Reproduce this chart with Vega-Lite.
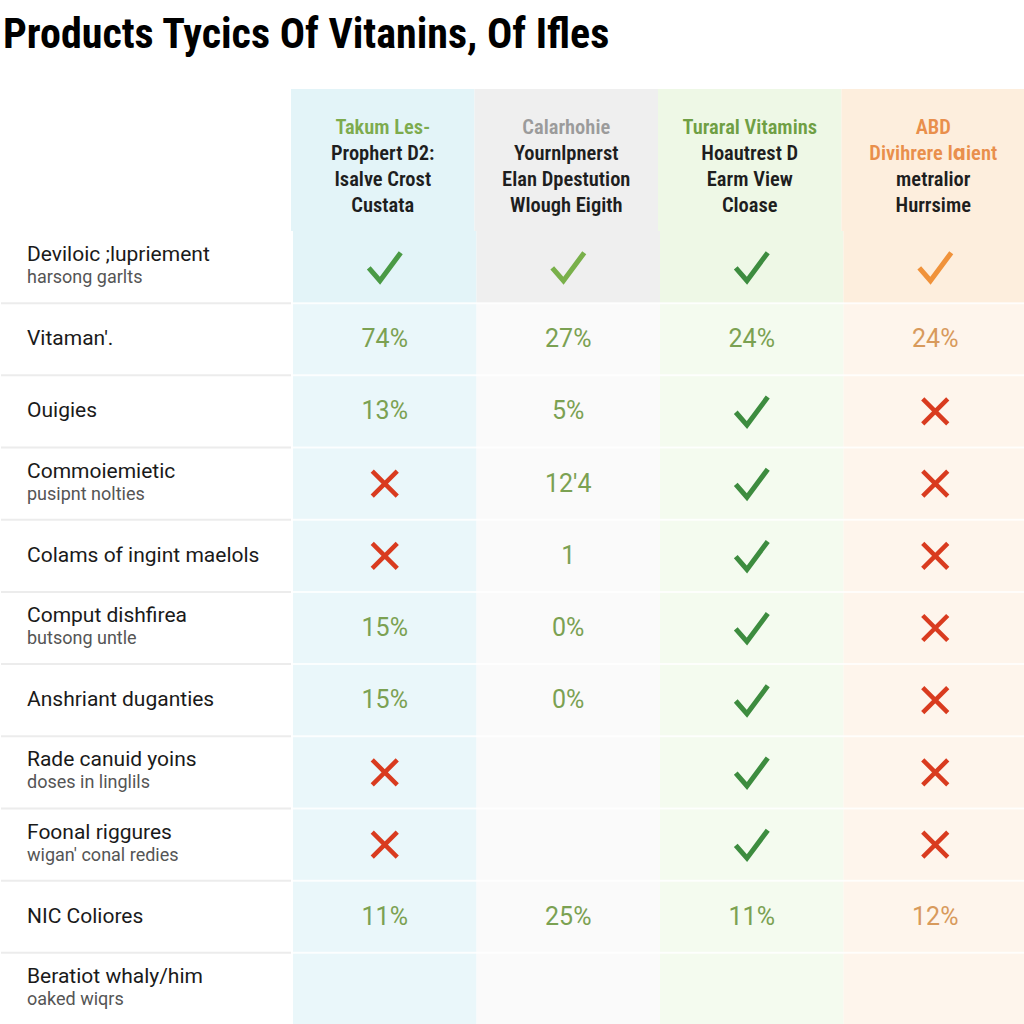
{
  "$schema": "https://vega.github.io/schema/vega-lite/v6.json",
  "padding": {"top": 14, "left": 0, "right": 0, "bottom": 0},
  "background": "#ffffff",
  "title": {"text": "Products Tycics Of Vitanins, Of Ifles", "anchor": "start", "font": "Roboto Condensed, DejaVu Sans Condensed, Roboto, sans-serif", "fontSize": 42, "fontWeight": "bold", "color": "#000000", "offset": 32, "dx": 3},
  "config": {"view": {"stroke": null}},
  "spacing": 0,
  "datasets": {
    "header": [
      {"col": "Takum Les-", "line": 1, "text": "Takum Les-"},
      {"col": "Takum Les-", "line": 2, "text": "Prophert D2:"},
      {"col": "Takum Les-", "line": 3, "text": "Isalve Crost"},
      {"col": "Takum Les-", "line": 4, "text": "Custata"},
      {"col": "Calarhohie", "line": 1, "text": "Calarhohie"},
      {"col": "Calarhohie", "line": 2, "text": "Yournlpnerst"},
      {"col": "Calarhohie", "line": 3, "text": "Elan Dpestution"},
      {"col": "Calarhohie", "line": 4, "text": "Wlough Eigith"},
      {"col": "Turaral Vitamins", "line": 1, "text": "Turaral Vitamins"},
      {"col": "Turaral Vitamins", "line": 2, "text": "Hoautrest D"},
      {"col": "Turaral Vitamins", "line": 3, "text": "Earm View"},
      {"col": "Turaral Vitamins", "line": 4, "text": "Cloase"},
      {"col": "ABD", "line": 1, "text": "ABD"},
      {"col": "ABD", "line": 2, "text": "Divihrere Iɑient"},
      {"col": "ABD", "line": 3, "text": "metralior"},
      {"col": "ABD", "line": 4, "text": "Hurrsime"}
    ],
    "rows": [
      {"row": "Deviloic ;lupriement", "sub": "harsong garlts"},
      {"row": "Vitaman'.", "sub": ""},
      {"row": "Ouigies", "sub": ""},
      {"row": "Commoiemietic", "sub": "pusipnt nolties"},
      {"row": "Colams of ingint maelols", "sub": ""},
      {"row": "Comput dishfirea", "sub": "butsong untle"},
      {"row": "Anshriant duganties", "sub": ""},
      {"row": "Rade canuid yoins", "sub": "doses in linglils"},
      {"row": "Foonal riggures", "sub": "wigan' conal redies"},
      {"row": "NIC Coliores", "sub": ""},
      {"row": "Beratiot whaly/him", "sub": "oaked wiqrs"}
    ],
    "cells": [
      {"row": "Deviloic ;lupriement", "col": "Takum Les-", "value": "✓"},
      {"row": "Deviloic ;lupriement", "col": "Calarhohie", "value": "✓"},
      {"row": "Deviloic ;lupriement", "col": "Turaral Vitamins", "value": "✓"},
      {"row": "Deviloic ;lupriement", "col": "ABD", "value": "✓"},
      {"row": "Vitaman'.", "col": "Takum Les-", "value": "74%"},
      {"row": "Vitaman'.", "col": "Calarhohie", "value": "27%"},
      {"row": "Vitaman'.", "col": "Turaral Vitamins", "value": "24%"},
      {"row": "Vitaman'.", "col": "ABD", "value": "24%"},
      {"row": "Ouigies", "col": "Takum Les-", "value": "13%"},
      {"row": "Ouigies", "col": "Calarhohie", "value": "5%"},
      {"row": "Ouigies", "col": "Turaral Vitamins", "value": "✓"},
      {"row": "Ouigies", "col": "ABD", "value": "✗"},
      {"row": "Commoiemietic", "col": "Takum Les-", "value": "✗"},
      {"row": "Commoiemietic", "col": "Calarhohie", "value": "12'4"},
      {"row": "Commoiemietic", "col": "Turaral Vitamins", "value": "✓"},
      {"row": "Commoiemietic", "col": "ABD", "value": "✗"},
      {"row": "Colams of ingint maelols", "col": "Takum Les-", "value": "✗"},
      {"row": "Colams of ingint maelols", "col": "Calarhohie", "value": "1"},
      {"row": "Colams of ingint maelols", "col": "Turaral Vitamins", "value": "✓"},
      {"row": "Colams of ingint maelols", "col": "ABD", "value": "✗"},
      {"row": "Comput dishfirea", "col": "Takum Les-", "value": "15%"},
      {"row": "Comput dishfirea", "col": "Calarhohie", "value": "0%"},
      {"row": "Comput dishfirea", "col": "Turaral Vitamins", "value": "✓"},
      {"row": "Comput dishfirea", "col": "ABD", "value": "✗"},
      {"row": "Anshriant duganties", "col": "Takum Les-", "value": "15%"},
      {"row": "Anshriant duganties", "col": "Calarhohie", "value": "0%"},
      {"row": "Anshriant duganties", "col": "Turaral Vitamins", "value": "✓"},
      {"row": "Anshriant duganties", "col": "ABD", "value": "✗"},
      {"row": "Rade canuid yoins", "col": "Takum Les-", "value": "✗"},
      {"row": "Rade canuid yoins", "col": "Calarhohie", "value": ""},
      {"row": "Rade canuid yoins", "col": "Turaral Vitamins", "value": "✓"},
      {"row": "Rade canuid yoins", "col": "ABD", "value": "✗"},
      {"row": "Foonal riggures", "col": "Takum Les-", "value": "✗"},
      {"row": "Foonal riggures", "col": "Calarhohie", "value": ""},
      {"row": "Foonal riggures", "col": "Turaral Vitamins", "value": "✓"},
      {"row": "Foonal riggures", "col": "ABD", "value": "✗"},
      {"row": "NIC Coliores", "col": "Takum Les-", "value": "11%"},
      {"row": "NIC Coliores", "col": "Calarhohie", "value": "25%"},
      {"row": "NIC Coliores", "col": "Turaral Vitamins", "value": "11%"},
      {"row": "NIC Coliores", "col": "ABD", "value": "12%"},
      {"row": "Beratiot whaly/him", "col": "Takum Les-", "value": ""},
      {"row": "Beratiot whaly/him", "col": "Calarhohie", "value": ""},
      {"row": "Beratiot whaly/him", "col": "Turaral Vitamins", "value": ""},
      {"row": "Beratiot whaly/him", "col": "ABD", "value": ""}
    ]
  },
  "vconcat": [
    {
      "spacing": 0,
      "hconcat": [
        {
          "width": 290, "height": 142,
          "data": {"values": [{"t": ""}]},
          "mark": {"type": "text"},
          "encoding": {"text": {"field": "t"}}
        },
        {
          "width": 734, "height": 142,
          "data": {"name": "header"},
          "layer": [
            {
              "transform": [{"filter": "datum.line === 1"}],
              "mark": {"type": "rect"},
              "encoding": {
                "x": {"field": "col", "type": "nominal", "scale": {"domain": ["Takum Les-", "Calarhohie", "Turaral Vitamins", "ABD"], "paddingInner": 0, "paddingOuter": 0}, "axis": null},
                "fill": {"condition": [
                  {"test": "datum.col === 'Takum Les-'", "value": "#e3f4f8"},
                  {"test": "datum.col === 'Calarhohie'", "value": "#efefef"},
                  {"test": "datum.col === 'Turaral Vitamins'", "value": "#eef8e6"}
                ], "value": "#fdeedd"}
              }
            },
            {
              "mark": {"type": "text", "font": "Roboto Condensed, DejaVu Sans Condensed, Roboto, sans-serif", "fontSize": 20.5, "fontWeight": 600},
              "encoding": {
                "x": {"field": "col", "type": "nominal", "scale": {"domain": ["Takum Les-", "Calarhohie", "Turaral Vitamins", "ABD"], "paddingInner": 0, "paddingOuter": 0}, "axis": null},
                "y": {"field": "line", "type": "quantitative", "scale": {"domain": [-0.5, 4.96], "reverse": true, "nice": false, "zero": false}, "axis": null},
                "text": {"field": "text"},
                "color": {
                  "condition": {"test": "datum.line === 1 || (datum.col === 'ABD' && datum.line === 2)", "field": "col", "type": "nominal", "scale": {"domain": ["Takum Les-", "Calarhohie", "Turaral Vitamins", "ABD"], "range": ["#7dab4e", "#9b9b9b", "#6f9f44", "#e98f4c"]}, "legend": null},
                  "value": "#1e1e1e"
                }
              }
            }
          ]
        }
      ]
    },
    {
      "spacing": 0,
      "hconcat": [
        {
          "width": 290, "height": 794,
          "data": {"name": "rows"},
          "layer": [
            {
              "transform": [{"filter": "datum.row !== 'Beratiot whaly/him'"}],
              "mark": {"type": "rule", "color": "#ececec", "strokeWidth": 2},
              "encoding": {
                "y": {"field": "row", "type": "nominal", "bandPosition": 1, "scale": {"domain": ["Deviloic ;lupriement", "Vitaman'.", "Ouigies", "Commoiemietic", "Colams of ingint maelols", "Comput dishfirea", "Anshriant duganties", "Rade canuid yoins", "Foonal riggures", "NIC Coliores", "Beratiot whaly/him"], "paddingInner": 0, "paddingOuter": 0}, "axis": null}
              }
            },
            {
              "transform": [{"filter": "datum.sub === ''"}],
              "mark": {"type": "text", "font": "Roboto", "fontSize": 21, "align": "left", "color": "#1a1a1a"},
              "encoding": {
                "x": {"value": 26},
                "y": {"field": "row", "type": "nominal", "scale": {"domain": ["Deviloic ;lupriement", "Vitaman'.", "Ouigies", "Commoiemietic", "Colams of ingint maelols", "Comput dishfirea", "Anshriant duganties", "Rade canuid yoins", "Foonal riggures", "NIC Coliores", "Beratiot whaly/him"], "paddingInner": 0, "paddingOuter": 0}, "axis": null},
                "text": {"field": "row"}
              }
            },
            {
              "transform": [{"filter": "datum.sub !== ''"}],
              "mark": {"type": "text", "font": "Roboto", "fontSize": 21, "align": "left", "color": "#1a1a1a", "dy": -12},
              "encoding": {
                "x": {"value": 26},
                "y": {"field": "row", "type": "nominal", "axis": null},
                "text": {"field": "row"}
              }
            },
            {
              "transform": [{"filter": "datum.sub !== ''"}],
              "mark": {"type": "text", "font": "Roboto", "fontSize": 18, "align": "left", "color": "#555555", "dy": 11},
              "encoding": {
                "x": {"value": 26},
                "y": {"field": "row", "type": "nominal", "axis": null},
                "text": {"field": "sub"}
              }
            }
          ]
        },
        {
          "width": 734, "height": 794,
          "data": {"name": "cells"},
          "encoding": {
            "x": {"field": "col", "type": "nominal", "scale": {"domain": ["Takum Les-", "Calarhohie", "Turaral Vitamins", "ABD"], "paddingInner": 0, "paddingOuter": 0}, "axis": null},
            "y": {"field": "row", "type": "nominal", "scale": {"domain": ["Deviloic ;lupriement", "Vitaman'.", "Ouigies", "Commoiemietic", "Colams of ingint maelols", "Comput dishfirea", "Anshriant duganties", "Rade canuid yoins", "Foonal riggures", "NIC Coliores", "Beratiot whaly/him"], "paddingInner": 0, "paddingOuter": 0}, "axis": null}
          },
          "layer": [
            {
              "mark": {"type": "rect"},
              "encoding": {
                "fill": {"condition": [
                  {"test": "datum.row === 'Deviloic ;lupriement' && datum.col === 'Takum Les-'", "value": "#e3f4f8"},
                  {"test": "datum.row === 'Deviloic ;lupriement' && datum.col === 'Calarhohie'", "value": "#efefef"},
                  {"test": "datum.row === 'Deviloic ;lupriement' && datum.col === 'Turaral Vitamins'", "value": "#eef8e6"},
                  {"test": "datum.row === 'Deviloic ;lupriement' && datum.col === 'ABD'", "value": "#fdeedd"},
                  {"test": "datum.col === 'Takum Les-'", "value": "#eaf7fa"},
                  {"test": "datum.col === 'Calarhohie'", "value": "#fafafa"},
                  {"test": "datum.col === 'Turaral Vitamins'", "value": "#f4fbef"}
                ], "value": "#fef5ec"}
              }
            },
            {
              "transform": [{"filter": "datum.col === 'ABD' && datum.row !== 'Beratiot whaly/him'"}],
              "mark": {"type": "rule", "color": "#ffffff", "strokeWidth": 2, "opacity": 0.8},
              "encoding": {
                "x": null,
                "y": {"field": "row", "type": "nominal", "bandPosition": 1, "scale": {"domain": ["Deviloic ;lupriement", "Vitaman'.", "Ouigies", "Commoiemietic", "Colams of ingint maelols", "Comput dishfirea", "Anshriant duganties", "Rade canuid yoins", "Foonal riggures", "NIC Coliores", "Beratiot whaly/him"], "paddingInner": 0, "paddingOuter": 0}, "axis": null}
              }
            },
            {
              "transform": [{"filter": "datum.value !== '✓' && datum.value !== '✗' && datum.value !== ''"}],
              "mark": {"type": "text", "font": "Roboto", "fontSize": 25},
              "encoding": {
                "text": {"field": "value"},
                "color": {"condition": {"test": "datum.col === 'ABD'", "value": "#d89a5c"}, "value": "#7ba152"}
              }
            },
            {
              "transform": [{"filter": "datum.value === '✓'"}],
              "mark": {"type": "point", "shape": "M-1,0.05L-0.3,0.85L1,-0.9", "filled": false, "size": 1024, "strokeWidth": 5, "opacity": 1, "strokeCap": "butt", "strokeJoin": "miter"},
              "encoding": {
                "color": {"condition": [
                  {"test": "datum.col === 'ABD'", "value": "#f0923a"},
                  {"test": "datum.col === 'Calarhohie'", "value": "#79b04a"},
                  {"test": "datum.col === 'Takum Les-'", "value": "#4a9a45"}
                ], "value": "#3d8c3f"}
              }
            },
            {
              "transform": [{"filter": "datum.value === '✗'"}],
              "mark": {"type": "point", "shape": "M-1,-1L1,1M-1,1L1,-1", "filled": false, "size": 625, "strokeWidth": 4.5, "opacity": 1, "color": "#d93b1f", "strokeCap": "butt"}
            }
          ]
        }
      ]
    }
  ]
}
